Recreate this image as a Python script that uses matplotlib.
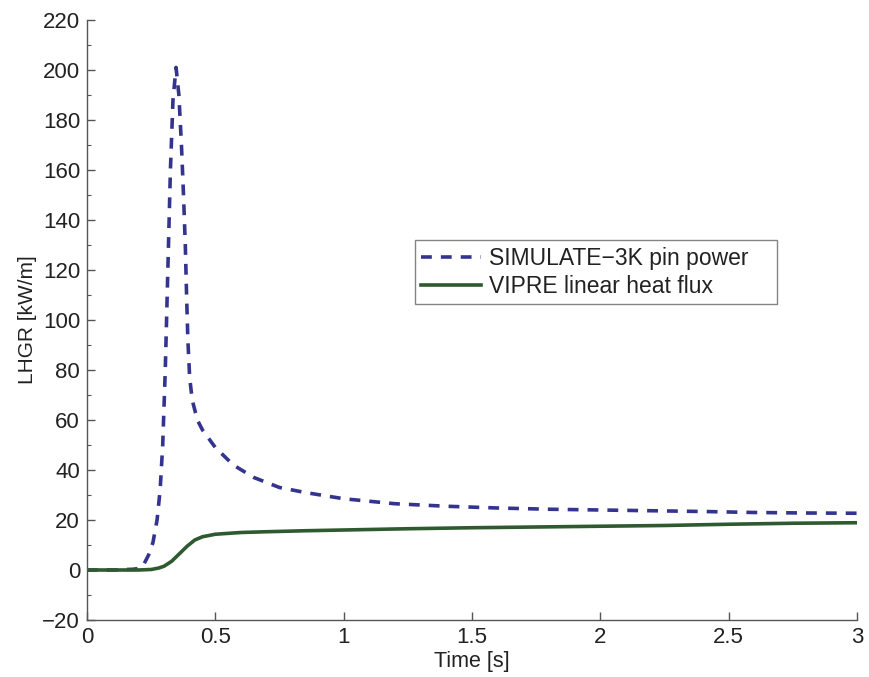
import matplotlib
matplotlib.use("Agg")
import matplotlib.pyplot as plt
from matplotlib.ticker import MultipleLocator

# Data
t_sim = [0, 0.1, 0.18, 0.2, 0.22, 0.24, 0.257, 0.273, 0.285, 0.295, 0.305, 0.315,
         0.325, 0.335, 0.347, 0.358, 0.368, 0.376, 0.383, 0.388, 0.393, 0.40, 0.41,
         0.43, 0.45, 0.5, 0.57, 0.65, 0.75, 0.85, 1.0, 1.2, 1.4, 1.6, 1.8, 2.0,
         2.2, 2.4, 2.6, 2.8, 3.0]
p_sim = [0, 0, 0.3, 0.6, 2, 6, 11, 20, 32, 50, 80, 120,
         160, 188, 201, 190, 170, 150, 130, 110, 92, 77, 68,
         60, 56, 49, 42, 37, 33, 31, 28.5, 26.5, 25.5, 24.8, 24.3, 24,
         23.7, 23.4, 23, 22.8, 22.7]

t_vip = [0, 0.2, 0.25, 0.28, 0.30, 0.33, 0.36, 0.39, 0.42, 0.45, 0.5, 0.6, 0.7,
         0.85, 1.0, 1.25, 1.5, 1.75, 2.0, 2.25, 2.5, 2.75, 3.0]
q_vip = [0, 0, 0.2, 0.8, 1.5, 3.5, 6.5, 9.5, 12, 13.3, 14.3, 15, 15.3,
         15.7, 16, 16.5, 16.9, 17.2, 17.5, 17.8, 18.3, 18.7, 18.9]

labels = ["SIMULATE\u22123K pin power", "VIPRE linear heat flux"]
x_ticks = [0, 0.5, 1, 1.5, 2, 2.5, 3]
x_tick_labels = ["0", "0.5", "1", "1.5", "2", "2.5", "3"]
y_ticks = list(range(-20, 221, 20))

plt.rcParams['font.family'] = ['Liberation Sans', 'DejaVu Sans']

fig = plt.figure(figsize=(8.7, 6.77), dpi=100)
ax = fig.add_axes([0.1, 0.0842, 0.885, 0.8863])

ax.plot(t_sim, p_sim, color='#34348f', lw=2.6, dashes=(3, 2.5), label=labels[0])
ax.plot(t_vip, q_vip, color='#2f5a2f', lw=2.6, label=labels[1])

ax.set_xlim(0, 3)
ax.set_ylim(-20, 220)
ax.set_xticks(x_ticks)
ax.set_xticklabels(x_tick_labels)
ax.set_yticks(y_ticks)
ax.yaxis.set_minor_locator(MultipleLocator(10))

for s in ['top', 'right']:
    ax.spines[s].set_visible(False)
for s in ['left', 'bottom']:
    ax.spines[s].set_color('#555555')
    ax.spines[s].set_linewidth(1.0)

ax.tick_params(axis='both', which='major', direction='in', length=6, width=1,
               color='#555555', labelsize=16, labelcolor='#222222', pad=5)
ax.tick_params(axis='y', which='minor', direction='in', length=3, width=0.8,
               color='#555555')

ax.set_xlabel("Time [s]", fontsize=15.5, color='#222222', labelpad=2)
ax.set_ylabel("LHGR [kW/m]", fontsize=15, color='#222222', labelpad=4)

leg = ax.legend(loc='upper left', bbox_to_anchor=(0.426, 0.533, 0.470, 0.1),
                mode='expand', fontsize=16.5,
                frameon=True, fancybox=False, handlelength=2.6,
                handletextpad=0.35, borderpad=0.28, labelspacing=0.22,
                borderaxespad=0)
leg.get_frame().set_edgecolor('#666666')
leg.get_frame().set_linewidth(1.0)
for txt in leg.get_texts():
    txt.set_color('#222222')

fig.savefig("out.png", dpi=100, facecolor='white')
